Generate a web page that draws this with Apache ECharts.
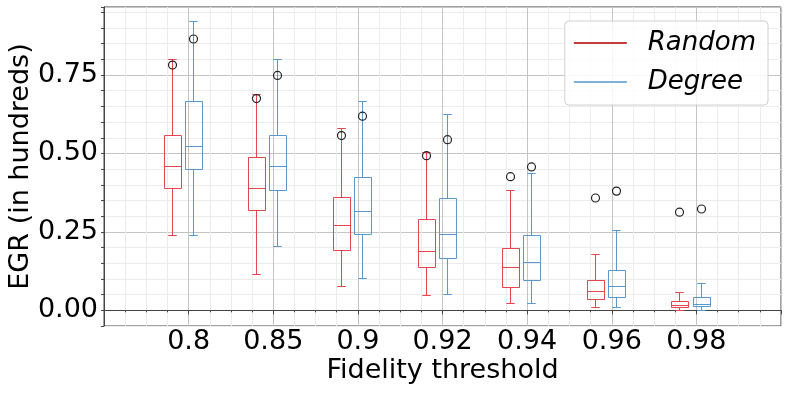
<!DOCTYPE html>
<html>
<head>
<meta charset="utf-8">
<script src="https://cdn.jsdelivr.net/npm/echarts@6/dist/echarts.min.js"></script>
<style>
  html, body { margin: 0; padding: 0; background: #fff; }
  #chart { width: 789px; height: 395px; }
</style>
</head>
<body>
<div id="chart"></div>
<script>
// fidelity thresholds (x categories)
const thresholds = ['0.8', '0.85', '0.9', '0.92', '0.94', '0.96', '0.98']
const yTickLabels = [0, 0.25, 0.5, 0.75]

// Random strategy: whisker low, q1, median, q3, whisker high, flier
const randomMin = [0.239, 0.117, 0.077, 0.050, 0.022, 0.010, 0.002]
const randomQ1 = [0.390, 0.321, 0.193, 0.139, 0.073, 0.036, 0.009]
const randomMed = [0.461, 0.391, 0.273, 0.190, 0.139, 0.061, 0.017]
const randomQ3 = [0.559, 0.490, 0.362, 0.292, 0.198, 0.096, 0.029]
const randomMax = [0.800, 0.691, 0.581, 0.505, 0.384, 0.181, 0.059]
const randomOut = [0.782, 0.675, 0.557, 0.493, 0.426, 0.358, 0.313]

// Degree strategy
const degreeMin = [0.241, 0.204, 0.103, 0.051, 0.024, 0.011, 0.002]
const degreeQ1 = [0.451, 0.383, 0.244, 0.168, 0.097, 0.044, 0.013]
const degreeMed = [0.525, 0.459, 0.318, 0.242, 0.155, 0.077, 0.021]
const degreeQ3 = [0.668, 0.559, 0.426, 0.359, 0.240, 0.129, 0.041]
const degreeMax = [0.921, 0.800, 0.668, 0.625, 0.437, 0.255, 0.088]
const degreeOut = [0.865, 0.749, 0.619, 0.544, 0.457, 0.380, 0.323]

const RED = '#e5454d'
const BLUE = '#5898cf'
const BOX_W = 0.2

const toRows = (mins, q1s, meds, q3s, maxs, outs) =>
  thresholds.map((t, i) => [i + 1, mins[i], q1s[i], meds[i], q3s[i], maxs[i], outs[i]])

// draws one box with whiskers, caps and flier
const makeRender = (offset, color) => (params, api) => {
  const x = api.value(0) + offset
  const half = api.size([BOX_W, 0])[0] / 2
  const px = (v) => api.coord([x, v])
  const cx = Math.round(px(0)[0]) + 0.5
  const y = (v) => Math.round(px(v)[1]) + 0.5
  const line = (x1, y1, x2, y2) => ({
    type: 'line',
    shape: { x1, y1, x2, y2 },
    style: { stroke: color, lineWidth: 1 }
  })
  const yMin = y(api.value(1)), yQ1 = y(api.value(2)), yMed = y(api.value(3))
  const yQ3 = y(api.value(4)), yMax = y(api.value(5)), yOut = px(api.value(6))[1]
  const l = Math.round(cx - half), r = Math.round(cx + half)
  return {
    type: 'group',
    children: [
      line(cx, yMax, cx, yQ3),
      line(cx, yQ1, cx, yMin),
      line(cx - half / 2, yMax, cx + half / 2, yMax),
      line(cx - half / 2, yMin, cx + half / 2, yMin),
      {
        type: 'rect',
        shape: { x: l + 0.5, y: yQ3, width: r - l, height: yQ1 - yQ3 },
        style: { stroke: color, fill: 'none', lineWidth: 1 }
      },
      line(l + 0.5, yMed, r + 0.5, yMed),
      {
        type: 'circle',
        shape: { cx: cx, cy: yOut, r: 4 },
        style: { stroke: '#222', fill: 'none', lineWidth: 1.2 }
      }
    ]
  }
}

const chart = echarts.init(document.getElementById('chart'), null, { renderer: 'canvas' })

const option = {
  animation: false,
  backgroundColor: '#fff',
  grid: {
    left: 104, right: 8, top: 7, bottom: 69,
    outerBoundsMode: 'none',
    containLabel: false,
    show: true, borderColor: '#444', borderWidth: 1
  },
  legend: {
    orient: 'vertical',
    right: 21,
    top: 21,
    padding: [9, 12, 10, 9],
    itemGap: 13,
    itemWidth: 53,
    itemHeight: 2,
    icon: 'rect',
    backgroundColor: 'rgba(255,255,255,0.85)',
    borderColor: '#d0d0d0',
    borderWidth: 1,
    borderRadius: 4,
    textStyle: {
      fontFamily: 'DejaVu Sans',
      fontStyle: 'italic',
      fontSize: 26,
      color: '#000',
      padding: [0, 0, 0, 16]
    },
    data: [
      { name: 'Random', itemStyle: { color: '#c93a3a' } },
      { name: 'Degree', itemStyle: { color: '#7fb0da' } }
    ]
  },
  xAxis: {
    type: 'value',
    min: 0,
    max: 8,
    interval: 1,
    name: 'Fidelity threshold',
    nameLocation: 'middle',
    nameGap: 31,
    nameMoveOverlap: false,
    nameTextStyle: { fontFamily: 'DejaVu Sans', fontSize: 27, color: '#000' },
    axisLine: { show: true, lineStyle: { color: '#444' } },
    axisTick: { show: true, length: 4, lineStyle: { color: '#444' } },
    minorTick: { show: true, splitNumber: 4, length: 2, lineStyle: { color: '#444' } },
    axisLabel: {
      fontFamily: 'DejaVu Sans',
      fontSize: 27,
      color: '#000',
      margin: 2,
      formatter: (v) => thresholds[v - 1] || ''
    },
    splitLine: { show: true, lineStyle: { color: '#c4c4c4', width: 1 } },
    minorSplitLine: { show: true, lineStyle: { color: '#ececec', width: 1 } }
  },
  yAxis: {
    type: 'value',
    min: -0.05,
    max: 0.967,
    interval: 0.05,
    name: 'EGR (in hundreds)',
    nameLocation: 'middle',
    nameGap: 70,
    nameMoveOverlap: false,
    nameTextStyle: { fontFamily: 'DejaVu Sans', fontSize: 27, color: '#000' },
    axisLine: { show: true, lineStyle: { color: '#444' } },
    axisTick: { show: true, length: 3, lineStyle: { color: '#444' } },
    axisLabel: {
      fontFamily: 'DejaVu Sans',
      fontSize: 27,
      color: '#000',
      margin: 6,
      formatter: (v) => {
        const hit = yTickLabels.find((t) => Math.abs(t - v) < 1e-6)
        return hit === undefined ? '' : hit.toFixed(2)
      }
    },
    splitLine: {
      show: true,
      lineStyle: { color: ['#ececec', '#c4c4c4', '#ececec', '#ececec', '#ececec'], width: 1 }
    }
  },
  series: [
    {
      name: 'Random',
      type: 'custom',
      itemStyle: { color: '#c93a3a' },
      renderItem: makeRender(-0.2, RED),
      encode: { x: 0, y: [1, 5, 6] },
      data: toRows(randomMin, randomQ1, randomMed, randomQ3, randomMax, randomOut),
      z: 3
    },
    {
      name: 'Degree',
      type: 'custom',
      itemStyle: { color: '#7fb0da' },
      renderItem: makeRender(0.05, BLUE),
      encode: { x: 0, y: [1, 5, 6] },
      data: toRows(degreeMin, degreeQ1, degreeMed, degreeQ3, degreeMax, degreeOut),
      z: 3
    }
  ]
}

chart.setOption(option)
</script>
</body>
</html>
